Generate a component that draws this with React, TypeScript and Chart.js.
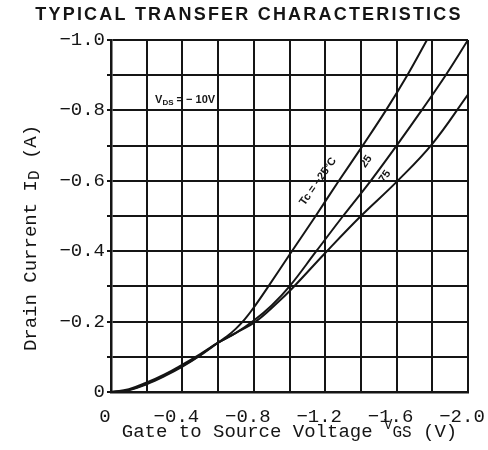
import React, { useEffect, useRef } from 'react';
import { Chart, registerables } from 'chart.js';

Chart.register(...registerables);

// ---- Data ----
const TITLE = 'TYPICAL TRANSFER CHARACTERISTICS';
const X_TITLE_MAIN = 'Gate to Source Voltage';
const X_TITLE_SYM = 'V';
const X_TITLE_SUB = 'GS';
const X_TITLE_UNIT = '(V)';
const Y_TITLE_MAIN = 'Drain Current I';
const Y_TITLE_SUB = 'D';
const Y_TITLE_UNIT = '(A)';
const NOTE_SYM = 'V';
const NOTE_SUB = 'DS';
const NOTE_REST = ' = − 10V';

const X_TICKS = [0, -0.4, -0.8, -1.2, -1.6, -2.0];
const X_TICK_LABELS = ['0', '−0.4', '−0.8', '−1.2', '−1.6', '−2.0'];
const Y_TICKS = [0, -0.2, -0.4, -0.6, -0.8, -1.0];
const Y_TICK_LABELS = ['0', '−0.2', '−0.4', '−0.6', '−0.8', '−1.0'];

const SERIES_LABELS = ['Tc = −25°C', '25', '75'];

// Tc = -25 °C
const vgsM25 = [0, -0.1, -0.2, -0.3, -0.4, -0.5, -0.6, -0.65, -0.7, -0.75, -0.8, -0.875, -1.0, -1.14, -1.27, -1.41, -1.54, -1.66, -1.77];
const idM25 = [0, -0.005, -0.022, -0.045, -0.072, -0.104, -0.14, -0.158, -0.18, -0.207, -0.24, -0.295, -0.39, -0.495, -0.595, -0.7, -0.8, -0.9, -1.0];
// Tc = 25 °C
const vgs25 = [0, -0.1, -0.2, -0.3, -0.4, -0.5, -0.6, -0.7, -0.8, -0.9, -1.0, -1.15, -1.3, -1.455, -1.6, -1.74, -1.875, -2.0];
const id25 = [0, -0.006, -0.024, -0.047, -0.074, -0.105, -0.14, -0.168, -0.203, -0.246, -0.3, -0.4, -0.5, -0.6, -0.7, -0.8, -0.9, -1.0];
// Tc = 75 °C
const vgs75 = [0, -0.1, -0.2, -0.3, -0.4, -0.5, -0.6, -0.7, -0.81, -0.92, -1.02, -1.2, -1.4, -1.6, -1.8, -2.0];
const id75 = [0, -0.008, -0.027, -0.05, -0.078, -0.108, -0.14, -0.168, -0.2, -0.248, -0.297, -0.395, -0.5, -0.597, -0.705, -0.845];

// label anchor points (data coords) and note position
const LABEL_POS = [
  { x: -1.16, y: -0.598 },
  { x: -1.43, y: -0.655 },
  { x: -1.535, y: -0.612 },
];
const NOTE_POS = { x: -0.247, y: -0.82 };

const INK = '#151515';
const MONO = "'Liberation Mono', 'DejaVu Sans Mono', monospace";

function pts(xs: number[], ys: number[]) {
  return xs.map((x, i) => ({ x, y: ys[i] }));
}

function tickLabel(v: number, ticks: number[], labels: string[]) {
  const i = ticks.findIndex((t) => Math.abs(t - v) < 1e-6);
  return i >= 0 ? labels[i] : '';
}

const textPlugin = {
  id: 'texts',
  afterDraw(chart: any) {
    const { ctx, chartArea: ca, scales } = chart;
    const xs = scales.x;
    const ys = scales.y;
    ctx.save();
    ctx.fillStyle = INK;

    // Title
    ctx.font = "bold 18px 'Liberation Sans', Arial, sans-serif";
    (ctx as any).letterSpacing = '2.2px';
    ctx.textAlign = 'center';
    ctx.textBaseline = 'middle';
    ctx.fillText(TITLE, chart.width / 2 + 5, 15);
    (ctx as any).letterSpacing = '0px';

    // X axis title
    ctx.textAlign = 'left';
    ctx.textBaseline = 'alphabetic';
    const big = `19px ${MONO}`;
    const symF = `14px ${MONO}`;
    const subF = `16px ${MONO}`;
    ctx.font = big;
    const wMain = ctx.measureText(X_TITLE_MAIN + ' ').width;
    const wUnit = ctx.measureText(' ' + X_TITLE_UNIT).width;
    ctx.font = symF;
    const wSym = ctx.measureText(X_TITLE_SYM).width;
    ctx.font = subF;
    const wSub = ctx.measureText(X_TITLE_SUB).width;
    const total = wMain + wSym + wSub + wUnit;
    let x0 = (ca.left + ca.right) / 2 - total / 2;
    const base = ca.bottom + 45;
    ctx.font = big;
    ctx.fillText(X_TITLE_MAIN + ' ', x0, base);
    x0 += wMain;
    ctx.font = symF;
    ctx.fillText(X_TITLE_SYM, x0, base - 8);
    x0 += wSym;
    ctx.font = subF;
    ctx.fillText(X_TITLE_SUB, x0, base);
    x0 += wSub;
    ctx.font = big;
    ctx.fillText(' ' + X_TITLE_UNIT, x0, base);

    // Y axis title (rotated)
    ctx.save();
    ctx.translate(ca.left - 75.5, (ca.top + ca.bottom) / 2 + 22);
    ctx.rotate(-Math.PI / 2);
    ctx.font = big;
    const yMain = ctx.measureText(Y_TITLE_MAIN).width;
    const yUnit = ctx.measureText(' ' + Y_TITLE_UNIT).width;
    ctx.font = subF;
    const ySub = ctx.measureText(Y_TITLE_SUB).width;
    let yx = -(yMain + ySub + yUnit) / 2;
    ctx.font = big;
    ctx.fillText(Y_TITLE_MAIN, yx, 0);
    yx += yMain;
    ctx.font = subF;
    ctx.fillText(Y_TITLE_SUB, yx, 3);
    yx += ySub;
    ctx.font = big;
    ctx.fillText(' ' + Y_TITLE_UNIT, yx, 0);
    ctx.restore();

    // V_DS note
    const nx = xs.getPixelForValue(NOTE_POS.x);
    const ny = ys.getPixelForValue(NOTE_POS.y);
    ctx.font = "bold 11px 'Liberation Sans', Arial, sans-serif";
    ctx.fillText(NOTE_SYM, nx, ny);
    let nxx = nx + ctx.measureText(NOTE_SYM).width;
    ctx.font = "bold 8px 'Liberation Sans', Arial, sans-serif";
    ctx.fillText(NOTE_SUB, nxx, ny + 2);
    nxx += ctx.measureText(NOTE_SUB).width;
    ctx.font = "bold 11px 'Liberation Sans', Arial, sans-serif";
    ctx.fillText(NOTE_REST, nxx, ny);

    // curve labels
    ctx.font = "bold 11px 'Liberation Sans', Arial, sans-serif";
    ctx.textAlign = 'center';
    ctx.textBaseline = 'middle';
    LABEL_POS.forEach((p, i) => {
      ctx.save();
      ctx.translate(xs.getPixelForValue(p.x), ys.getPixelForValue(p.y));
      ctx.rotate((-55 * Math.PI) / 180);
      ctx.fillText(SERIES_LABELS[i], 0, 0);
      ctx.restore();
    });

    ctx.restore();
  },
};

export default function App() {
  const ref = useRef<HTMLCanvasElement>(null);
  useEffect(() => {
    if (!ref.current) return;
    const lineDs = (data: { x: number; y: number }[], label: string) => ({
      label,
      data,
      showLine: true,
      borderColor: INK,
      borderWidth: 2,
      pointRadius: 0,
      fill: false,
      tension: 0.4,
    });
    const chart = new Chart(ref.current, {
      type: 'scatter',
      data: {
        datasets: [
          lineDs(pts(vgsM25, idM25), SERIES_LABELS[0]),
          lineDs(pts(vgs25, id25), SERIES_LABELS[1]),
          lineDs(pts(vgs75, id75), SERIES_LABELS[2]),
        ],
      },
      options: {
        responsive: false,
        animation: false,
        devicePixelRatio: 1,
        layout: { padding: { top: 40, right: 20, bottom: 0, left: 0 } },
        plugins: {
          legend: { display: false },
          tooltip: { enabled: false },
          title: { display: false },
        },
        scales: {
          x: {
            type: 'linear',
            min: -2,
            max: 0,
            reverse: true,
            afterFit: (s: any) => {
              s.height = 58;
              s.paddingLeft = 0;
              s.paddingRight = 0;
            },
            ticks: {
              stepSize: 0.2,
              autoSkip: false,
              maxRotation: 0,
              labelOffset: -6,
              padding: 14,
              color: INK,
              font: { family: MONO, size: 19 },
              callback: (v: any) => tickLabel(Number(v), X_TICKS, X_TICK_LABELS),
            },
            grid: { color: INK, lineWidth: 2, drawTicks: false },
            border: { color: INK, width: 2.5 },
          },
          y: {
            type: 'linear',
            min: -1,
            max: 0,
            reverse: true,
            afterFit: (s: any) => {
              s.width = 111;
              s.paddingTop = 0;
              s.paddingBottom = 0;
            },
            ticks: {
              stepSize: 0.1,
              autoSkip: false,
              padding: 2,
              color: INK,
              font: { family: MONO, size: 19 },
              callback: (v: any) => tickLabel(Number(v), Y_TICKS, Y_TICK_LABELS),
            },
            grid: { color: INK, lineWidth: 2, drawTicks: true, tickLength: 4 },
            border: { color: INK, width: 2.5 },
          },
        },
      },
      plugins: [textPlugin],
    });
    return () => chart.destroy();
  }, []);
  return (
    <div style={{ position: 'absolute', left: 0, top: 0, width: 488, height: 450, background: '#fff' }}>
      <canvas ref={ref} width={488} height={450} style={{ display: 'block' }} />
    </div>
  );
}
